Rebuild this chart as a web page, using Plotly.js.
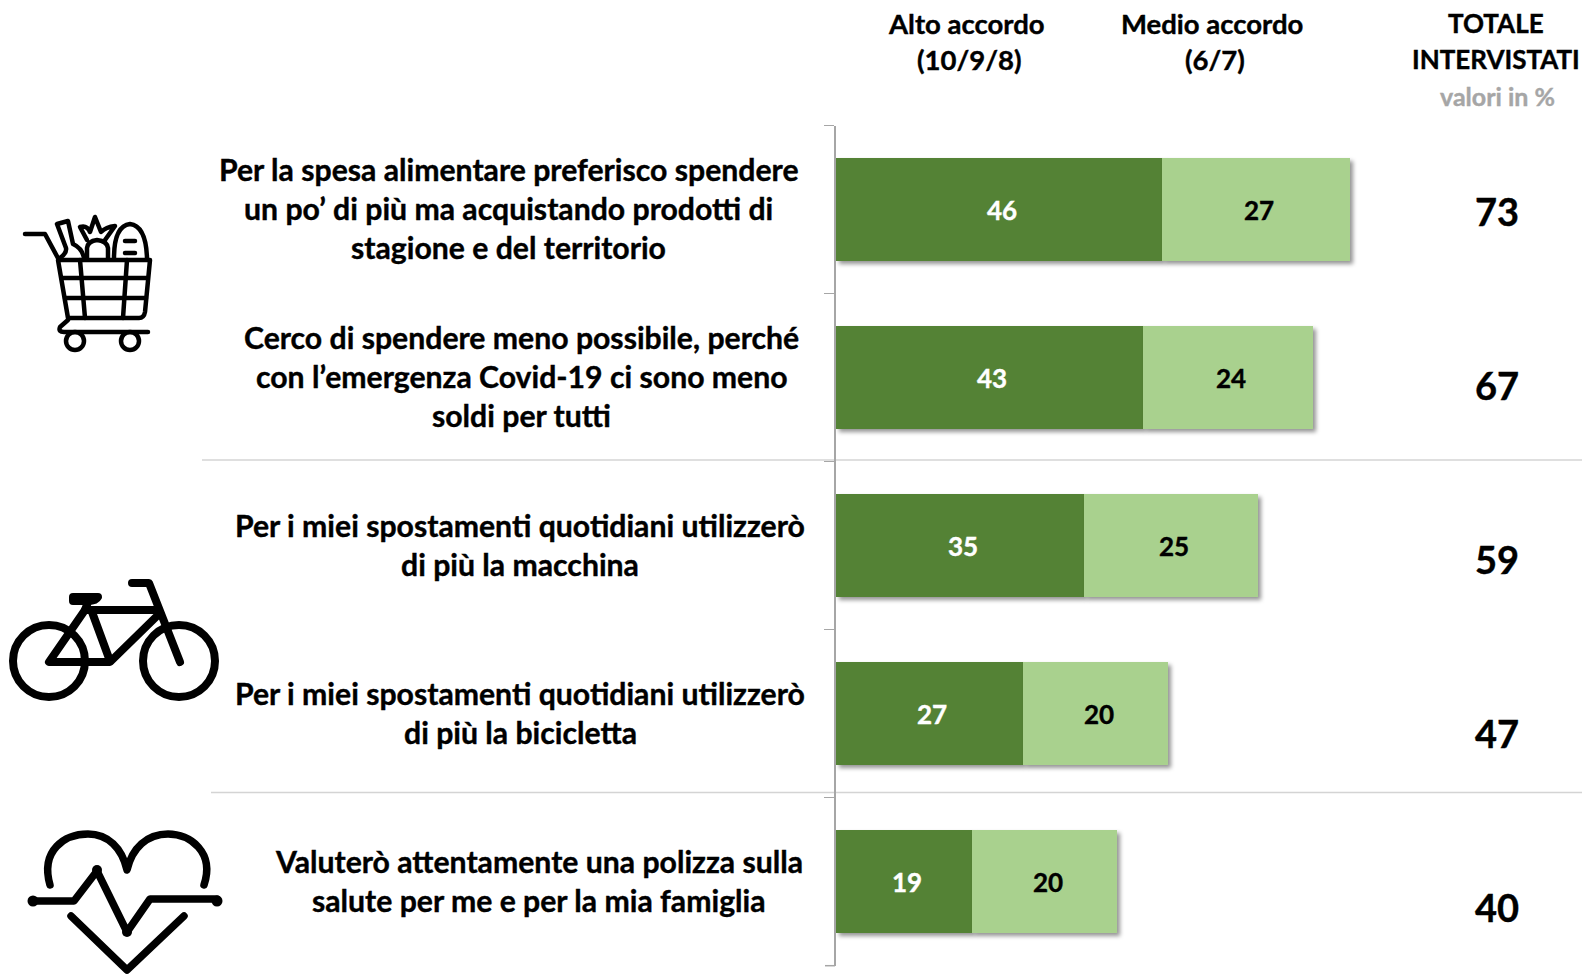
<!DOCTYPE html>
<html><head><meta charset="utf-8">
<script src="https://cdn.plot.ly/plotly-3.0.1.min.js"></script>
<style>
html,body{margin:0;padding:0;background:#fff}
#chart{width:1582px;height:974px}
.barlayer path{filter:drop-shadow(3px 3px 2px rgba(0,0,0,.42))}
</style></head><body><div id="chart"></div>
<script>
var categories = ["Spesa","Risparmio","Macchina","Bicicletta","Polizza"];
var labelLines = [
 ["Per la spesa alimentare preferisco spendere","un po’ di più ma acquistando prodotti di","stagione e del territorio"],
 ["Cerco di spendere meno possibile, perché","con l’emergenza Covid-19 ci sono meno","soldi per tutti"],
 ["Per i miei spostamenti quotidiani utilizzerò","di più la macchina"],
 ["Per i miei spostamenti quotidiani utilizzerò","di più la bicicletta"],
 ["Valuterò attentamente una polizza sulla","salute per me e per la mia famiglia"]
];
var altoValues = [46,43.4,35,26.5,19.3];
var medioValues = [26.55,24,24.6,20.4,20.45];
var totals = [73,67,59,47,40];
var altoColor = "#548235", medioColor = "#A9D18E";
var F = "Lato, Carlito, sans-serif";
var W = 1582, H = 974;
function px(x){return x/W;} function py(y){return 1-y/H;}

var labelCenters = [508.5,521.5,520,520,539];
var totalY = [211,385,559,733,907];

var annotations = [];
function addText(t,x,y,size,color){
  annotations.push({text:t,xref:"paper",yref:"paper",x:px(x),y:py(y),xanchor:"center",yanchor:"middle",showarrow:false,
    font:{family:F,size:size,color:color||"#000",weight:700}});
}
labelLines.forEach(function(lines,i){
  lines.forEach(function(t,j){
    annotations.push({text:t,xref:"paper",yref:"y",x:px(labelCenters[i]),y:categories[i],xanchor:"center",yanchor:"middle",
      yshift:1.5-(j-(lines.length-1)/2)*39,showarrow:false,font:{family:F,size:30.2,color:"#000",weight:700}});
  });
});
categories.forEach(function(c,i){
  annotations.push({text:String(Math.round(altoValues[i])),x:altoValues[i]/2,y:c,xref:"x",yref:"y",xshift:3,showarrow:false,
    font:{family:F,size:26,color:"#fff",weight:700}});
  annotations.push({text:String(Math.round(medioValues[i])),x:altoValues[i]+medioValues[i]/2,y:c,xref:"x",yref:"y",xshift:3,showarrow:false,
    font:{family:F,size:26,color:"#000",weight:700}});
  addText(String(totals[i]),1497,totalY[i],38,"#000");
});
addText("Alto accordo",966.5,23,27.5,"#000"); addText("(10/9/8)",969.5,59,27.5,"#000");
addText("Medio accordo",1212,23,27.5,"#000"); addText("(6/7)",1215,59,27.5,"#000");
addText("TOTALE",1496,23.5,26,"#000"); addText("INTERVISTATI",1496,59.5,26,"#000");
addText("valori in %",1497,96,25,"#a6a6a6");

function svgUri(s){return "data:image/svg+xml;charset=utf-8,"+encodeURIComponent(s);}
var cart='<svg xmlns="http://www.w3.org/2000/svg" viewBox="0 0 240 180"><g fill="none" stroke="#000" stroke-width="4.5" stroke-linecap="round" stroke-linejoin="round">'+
 '<path d="M25 44H45L59 70"/><path d="M58 70H150L145 122Q144 128 139 128H68Z"/><path d="M62 88H147M65 108H146M80 70L85 128M127 70L123 128"/>'+
 '<path d="M60 68Q67 63 66 58L57 34L68 31L73 54Q82 58 84 68"/><path d="M87 68V58Q88 51 97 50Q107 51 108 58V68"/><path d="M87 50L80 37Q87 35 90 42L95 27L101 42Q106 37 115 36L105 50"/>'+
 '<path d="M114 68Q114 36 130 34Q146 36 147 68"/><path d="M125 51H135M125 63H135"/>'+
 '<path d="M68 130L60 137Q58 142 64 142H148"/><circle cx="75" cy="151" r="9"/><circle cx="130" cy="151" r="9"/></g></svg>';
var bike='<svg xmlns="http://www.w3.org/2000/svg" viewBox="0 0 240 160"><g fill="none" stroke="#000" stroke-width="8" stroke-linecap="round" stroke-linejoin="round">'+
 '<circle cx="49" cy="101" r="36"/><circle cx="179" cy="101" r="36"/>'+
 '<path d="M132 23H149L180 102"/><path d="M88 42L85 50H155"/><path d="M85 50L49 102H110L156 57"/><path d="M92 52L110 101"/>'+
 '<path d="M73 37H98Q96 41 88 41H73Z" fill="#000"/></g></svg>';
var heart='<svg xmlns="http://www.w3.org/2000/svg" viewBox="0 0 240 164"><g fill="none" stroke="#000" stroke-width="7.5" stroke-linecap="round" stroke-linejoin="round">'+
 '<path d="M40 75C30 40 55 24 78 24C98 24 112 38 117 60C122 38 137 24 158 24C180 24 205 42 194 75"/>'+
 '<path d="M23 91H64L87 61L117 122L140 89H207"/><path d="M61 106L117 160L174 106"/></g>'+
 '<g fill="#000"><circle cx="23" cy="91" r="5.5"/><circle cx="207" cy="91" r="5.5"/><circle cx="87" cy="60" r="5"/><circle cx="117" cy="122" r="5"/></g></svg>';
var images=[
 {source:svgUri(cart),xref:"paper",yref:"paper",x:px(0),y:py(190),sizex:240/W,sizey:180/H,xanchor:"left",yanchor:"top",sizing:"stretch",layer:"above"},
 {source:svgUri(bike),xref:"paper",yref:"paper",x:px(0),y:py(560),sizex:240/W,sizey:160/H,xanchor:"left",yanchor:"top",sizing:"stretch",layer:"above"},
 {source:svgUri(heart),xref:"paper",yref:"paper",x:px(10),y:py(810),sizex:240/W,sizey:164/H,xanchor:"left",yanchor:"top",sizing:"stretch",layer:"above"}
];

var traces=[
 {type:"bar",orientation:"h",name:"Alto accordo (10/9/8)",y:categories,x:altoValues,marker:{color:altoColor,line:{width:0}},hoverinfo:"x+name"},
 {type:"bar",orientation:"h",name:"Medio accordo (6/7)",y:categories,x:medioValues,marker:{color:medioColor,line:{width:0}},hoverinfo:"x+name"}
];
var sep="#d4d4d4";
var layout={
 width:W,height:H,margin:{l:0,r:0,t:0,b:0,pad:0},paper_bgcolor:"#fff",plot_bgcolor:"rgba(0,0,0,0)",
 barmode:"stack",bargap:0.387,showlegend:false,
 xaxis:{domain:[835.5/W,1448.8/W],range:[0,86.5],showgrid:false,zeroline:false,showline:false,showticklabels:false,ticks:""},
 yaxis:{domain:[1-965.7/H,1-125.7/H],autorange:"reversed",type:"category",categoryorder:"array",categoryarray:categories,anchor:"x",
   showgrid:false,zeroline:false,showline:true,linecolor:"#a6a6a6",linewidth:1.5,ticks:"outside",tickson:"boundaries",ticklen:10,tickwidth:1,tickcolor:"#a6a6a6",showticklabels:false},
 shapes:[
  {type:"line",xref:"paper",yref:"paper",x0:px(202),x1:1,y0:py(460),y1:py(460),line:{color:sep,width:1.5},layer:"below"},
  {type:"line",xref:"paper",yref:"paper",x0:px(211),x1:1,y0:py(792.5),y1:py(792.5),line:{color:sep,width:1.5},layer:"below"},
  {type:"line",xref:"paper",yref:"paper",x0:px(825),x1:px(835),y0:py(965.7),y1:py(965.7),line:{color:"#a6a6a6",width:1.5},layer:"above"}
 ],
 annotations:annotations,images:images
};
Plotly.newPlot("chart",traces,layout,{displayModeBar:false,staticPlot:true}).then(function(){
  document.querySelectorAll(".annotation-text").forEach(function(el){
    el.style.stroke = el.style.fill;
    el.style.strokeWidth = "0.4px";
  });
});
</script></body></html>
